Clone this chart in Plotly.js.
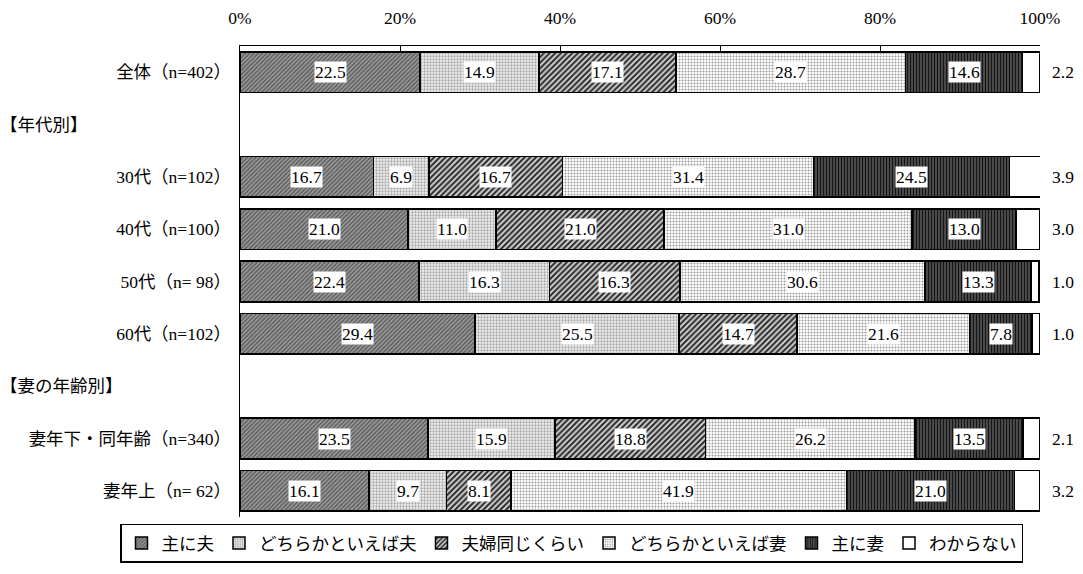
<!DOCTYPE html>
<html><head><meta charset="utf-8">
<script src="https://cdn.plot.ly/plotly-3.0.1.min.js"></script>
<style>html,body{margin:0;padding:0;background:#fff}#chart{width:1083px;height:574px}</style>
</head><body><div id="chart"></div>
<script>
const categories = ["全体（n=402）", "【年代別】", "30代（n=102）", "40代（n=100）", "50代（n= 98）", "60代（n=102）", "【妻の年齢別】", "妻年下・同年齢（n=340）", "妻年上（n= 62）"];
const headerRows = ["【年代別】", "【妻の年齢別】"];
const seriesNames = ["主に夫", "どちらかといえば夫", "夫婦同じくらい", "どちらかといえば妻", "主に妻", "わからない"];
const omoniOtto      = [22.5, null, 16.7, 21.0, 22.4, 29.4, null, 23.5, 16.1];
const dochiraOtto    = [14.9, null, 6.9, 11.0, 16.3, 25.5, null, 15.9, 9.7];
const fufuOnaji      = [17.1, null, 16.7, 21.0, 16.3, 14.7, null, 18.8, 8.1];
const dochiraTsuma   = [28.7, null, 31.4, 31.0, 30.6, 21.6, null, 26.2, 41.9];
const omoniTsuma     = [14.6, null, 24.5, 13.0, 13.3, 7.8, null, 13.5, 21.0];
const wakaranai      = [2.2, null, 3.9, 3.0, 1.0, 1.0, null, 2.1, 3.2];
const xTickVals = [0, 20, 40, 60, 80, 100];
const xTickText = ["0%", "20%", "40%", "60%", "80%", "100%"];

const series = [omoniOtto, dochiraOtto, fufuOnaji, dochiraTsuma, omoniTsuma, wakaranai];
const patterns = [
  {shape: "/", bgcolor: "#9c9c9c", fgcolor: "#585858", size: 3, solidity: 0.45},
  {shape: ".", bgcolor: "#f2f2f2", fgcolor: "#a8a8a8", size: 3, solidity: 0.45},
  {shape: "/", bgcolor: "#d0d0d0", fgcolor: "#2a2a2a", size: 4, solidity: 0.5},
  {shape: ".", bgcolor: "#ffffff", fgcolor: "#9a9a9a", size: 3, solidity: 0.35},
  {shape: "|", bgcolor: "#5a5a5a", fgcolor: "#151515", size: 3, solidity: 0.5},
  {shape: "", bgcolor: "#ffffff", fgcolor: "#ffffff", size: 3, solidity: 0.3}
];
const FONT = "Liberation Serif, 'Noto Sans CJK JP', serif";
const FS = 17.5;

const traces = series.map((vals, i) => ({
  type: "bar", orientation: "h", name: seriesNames[i],
  y: categories, x: vals, width: 0.78,
  marker: {color: i === 5 ? "#ffffff" : patterns[i].bgcolor, line: {color: "#000", width: 1.5},
    pattern: i === 5 ? {shape: ""} : Object.assign({fillmode: "replace"}, patterns[i])},
  hoverinfo: "skip"
}));

const annotations = [];
categories.forEach((cat, r) => {
  let cum = 0;
  series.forEach((vals, i) => {
    const v = vals[r];
    if (v === null) return;
    if (i < 5) {
      annotations.push({x: cum + v / 2, y: cat, xref: "x", yref: "y", text: v.toFixed(1), showarrow: false,
        bgcolor: "#ffffff", borderpad: 0, font: {family: FONT, size: FS, color: "#000"}});
    } else {
      annotations.push({x: 100, y: cat, xref: "x", yref: "y", text: v.toFixed(1), showarrow: false,
        xanchor: "left", xshift: 10, font: {family: FONT, size: FS, color: "#000"}});
    }
    cum += v;
  });
});
headerRows.forEach(h => annotations.push({x: 0, xref: "paper", xanchor: "left", xshift: -242, y: h, yref: "y",
  text: h, showarrow: false, font: {family: FONT, size: FS, color: "#000"}}));

const layout = {
  width: 1083, height: 574,
  margin: {l: 240, r: 43, t: 46, b: 56},
  barmode: "stack", bargap: 0.2,
  paper_bgcolor: "#fff", plot_bgcolor: "#fff",
  font: {family: FONT, size: FS, color: "#000"},
  xaxis: {side: "top", range: [0, 100], tickvals: xTickVals, ticktext: xTickText, showgrid: false, zeroline: false,
    showline: true, linecolor: "#000", linewidth: 1.5, ticks: "inside", ticklen: 5, tickcolor: "#000",
    ticklabelstandoff: 14, tickfont: {family: FONT, size: FS}},
  yaxis: {autorange: "reversed", type: "category", showline: true, linecolor: "#000", linewidth: 1.5, ticks: "",
    tickvals: categories, ticktext: categories.map(c => headerRows.includes(c) ? "" : c),
    ticklabelstandoff: 4, tickfont: {family: FONT, size: FS}, showgrid: false},
  legend: {orientation: "h", x: -0.15, xanchor: "left", y: -0.012, yanchor: "top",
    bordercolor: "#000", borderwidth: 1.5,
    font: {family: FONT, size: FS}, traceorder: "normal", itemwidth: 30, bgcolor: "#fff"},
  annotations: annotations,
  showlegend: true
};
Plotly.newPlot("chart", traces, layout, {displayModeBar: false, staticPlot: true});
</script></body></html>
